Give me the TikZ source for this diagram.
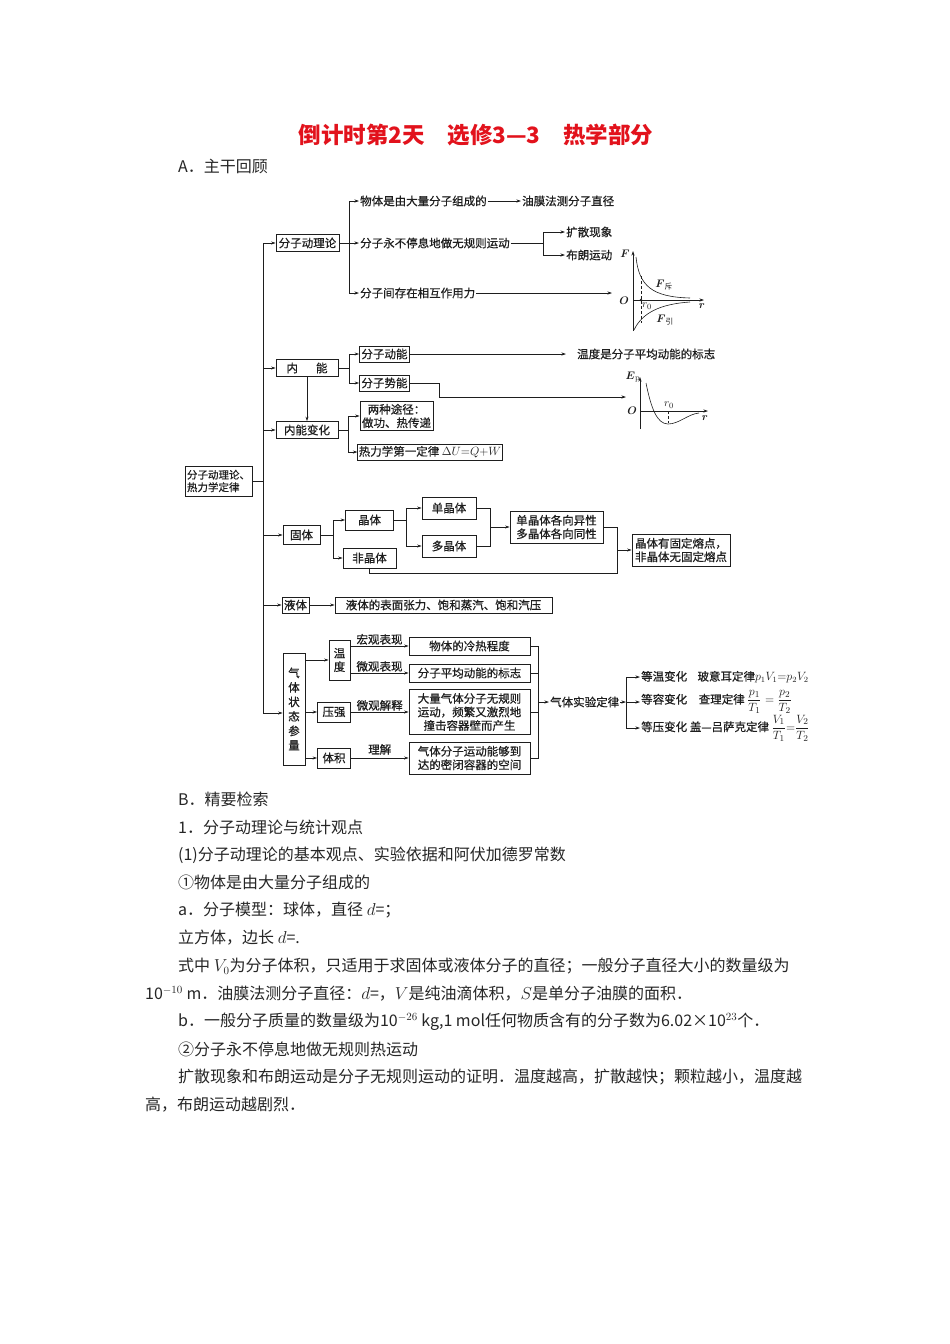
\documentclass[tikz,border=0pt]{standalone}
\usepackage{amsmath}
\usepackage[no-math]{fontspec}
\setmainfont{Noto Sans CJK SC}
\newfontface\diaface[FakeBold=0.6]{Noto Sans CJK SC}
\usetikzlibrary{arrows.meta,positioning,calc}
\definecolor{titlered}{RGB}{226,18,28}
\definecolor{ink}{RGB}{30,30,30}
\newcommand\diafont{\fontsize{11.5}{13.5}\selectfont\diaface}
\newcommand\txtfont{\fontsize{16}{19}\selectfont}
\newcommand\grfont{\fontsize{11}{13}\selectfont}
\newcommand\fracfont{\fontsize{12.5}{14}\selectfont}

\begin{document}
\begin{tikzpicture}[x=1pt, y=-1pt,
  box/.style={draw=ink, line width=0.65pt, align=center, font=\diafont,
              inner sep=2pt, text=ink},
  lbl/.style={font=\diafont, inner sep=1pt, text=ink},
  gl/.style={font=\grfont, inner sep=0pt, text=ink},
  txt/.style={font=\txtfont, anchor=west, inner sep=0pt, text=black!85},
  arr/.style={-{Stealth[length=4.5pt,width=3pt]}, line width=0.65pt, ink},
  wire/.style={line width=0.65pt, ink},
  curve/.style={line width=0.6pt, ink}]

\useasboundingbox (0,0) rectangle (950,1344);
\fill[white] (0,0) rectangle (950,1344);

% ---------- heading ----------
\node[font=\fontsize{22.5}{26}\selectfont\bfseries, text=titlered] (title) at (476,135)
  {倒计时第2天　选修3—3　热学部分};
\node[txt] (secA) at (178,166) {A．主干回顾};

% ---------- root and trunk ----------
\node[box, font=\fontsize{10.5}{12.5}\selectfont\diaface, align=left, minimum width=67pt,
      minimum height=30pt, inner sep=1pt] (root) at (218.5,481) {分子动理论、\\热力学定律};
\coordinate (trunktop) at (263,243);
\coordinate (trunkbot) at (263,713);
\draw[wire] (root.east) -- (root.east -| trunktop);
\draw[wire] (trunktop) -- (trunkbot);

\node[box, minimum width=63pt, minimum height=17pt] (kinetic) at (307.5,243) {分子动理论};
\node[box, minimum width=62pt, minimum height=17pt] (internal) at (307,368) {内\hspace{18pt}能};
\node[box, minimum width=62pt, minimum height=17pt] (change) at (307,430) {内能变化};
\node[box, minimum width=37pt, minimum height=19pt] (solid) at (301.5,535) {固体};
\node[box, minimum width=27pt, minimum height=16pt, inner sep=1pt] (liquid) at (295.5,605) {液体};
\node[box, font=\fontsize{11.5}{14.5}\selectfont\diaface, minimum width=22pt, minimum height=112pt,
      inner sep=1pt] (gas) at (294,709) {气\\体\\状\\态\\参\\量};

\foreach \n in {kinetic,internal,change,solid,liquid}
  \draw[arr] (trunktop |- \n.west) -- (\n.west);
\draw[arr] (trunkbot) -- (gas.west |- trunkbot);

% ---------- kinetic theory ----------
\node[lbl, anchor=west] (many) at (359,201) {物体是由大量分子组成的};
\node[lbl, anchor=west] (oilfilm) at (521,201) {油膜法测分子直径};
\node[lbl, anchor=west] (random) at (359,243) {分子永不停息地做无规则运动};
\node[lbl, anchor=west] (diffuse) at (565,232) {扩散现象};
\node[lbl, anchor=west] (brown) at (565,255) {布朗运动};
\node[lbl, anchor=west] (force) at (359,293) {分子间存在相互作用力};

\coordinate (kfork) at (349,243);
\draw[wire] (kinetic.east) -- (kfork);
\draw[wire] (kfork |- many.west) -- (kfork |- force.west);
\foreach \n in {many,random,force}
  \draw[arr] (kfork |- \n.west) -- (\n.west);
\draw[arr] (many.east) -- (oilfilm.west);

\coordinate (rfork) at (543,243);
\draw[wire] (random.east) -- (rfork);
\draw[wire] (rfork |- diffuse.west) -- (rfork |- brown.west);
\draw[arr] (rfork |- diffuse.west) -- (diffuse.west);
\draw[arr] (rfork |- brown.west) -- (brown.west);

\coordinate (fgraph) at (612,293);
\draw[arr] (force.east) -- (fgraph);

% F-r curve
\draw[arr] (633,331) -- (633,251);
\draw[arr] (633,300) -- (704,300);
\draw[ink, densely dashed, line width=0.4pt] (641,276) -- (641,323);
\fill[ink] (641,300) circle (1.3pt);
\draw[curve] (636,257) .. controls (639,286) and (652,297) .. (690,298);
\draw[curve] (634,330) .. controls (642,313) and (660,304) .. (690,302);
\node[gl] (fF) at (625,254) {$\boldsymbol{F}$};
\node[gl] (fO) at (624,301) {$\boldsymbol{O}$};
\node[gl] (fr0) at (647,306) {$r_0$};
\node[gl] (fr) at (702,306) {$\boldsymbol{r}$};
\node[gl] (frep) at (664,285) {$\boldsymbol{F}_{\text{斥}}$};
\node[gl] (fatt) at (665,320) {$\boldsymbol{F}_{\text{引}}$};

% ---------- internal energy ----------
\node[box, minimum width=50pt, minimum height=16pt] (ekin) at (384.5,354) {分子动能};
\node[box, minimum width=50pt, minimum height=16pt] (epot) at (384.5,383) {分子势能};
\node[lbl, anchor=west] (tempsign) at (576,354) {温度是分子平均动能的标志};

\coordinate (ifork) at (349,368);
\draw[wire] (internal.east) -- (ifork);
\draw[wire] (ifork |- ekin.west) -- (ifork |- epot.west);
\draw[arr] (ifork |- ekin.west) -- (ekin.west);
\draw[arr] (ifork |- epot.west) -- (epot.west);
\draw[arr, shorten >=10pt] (ekin.east) -- (tempsign.west);

\coordinate (epgraph) at (626,397);
\draw[arr] (epot.east) -- ++(29,0) |- (epgraph);

% Ep-r curve
\draw[arr] (640,429) -- (640,377);
\draw[arr] (640,411) -- (708,411);
\draw[ink, densely dashed, line width=0.4pt] (668,411) -- (668,423);
\draw[curve] (646,383) .. controls (651,408) and (657,424) .. (668,424)
             .. controls (679,424) and (688,414) .. (699,413);
\node[gl] (eEp) at (633,377) {$\boldsymbol{E}_{\mathrm{p}}$};
\node[gl] (eO) at (632,411) {$\boldsymbol{O}$};
\node[gl] (er0) at (669,405) {$r_0$};
\node[gl] (er) at (705,418) {$\boldsymbol{r}$};

% ---------- change of internal energy ----------
\node[box, minimum width=73pt, minimum height=29pt, inner sep=1pt] (ways) at (396.5,416)
  {两种途径：\\做功、热传递};
\node[box, minimum width=140pt, minimum height=16pt, inner sep=1pt] (firstlaw) at (430,452)
  {热力学第一定律 $\Delta U{=}Q{+}W$};

\draw[arr] (internal.south) -- (change.north);
\coordinate (cfork) at (348,430);
\draw[wire] (change.east) -- (cfork);
\draw[wire] (cfork |- ways.west) -- (cfork |- firstlaw.west);
\draw[arr] (cfork |- ways.west) -- (ways.west);
\draw[arr] (cfork |- firstlaw.west) -- (firstlaw.west);

% ---------- solids ----------
\node[box, minimum width=48pt, minimum height=20pt] (crystal) at (369.5,520) {晶体};
\node[box, minimum width=53pt, minimum height=20pt] (amorph) at (369.5,558) {非晶体};
\node[box, minimum width=54pt, minimum height=22pt] (single) at (449,508) {单晶体};
\node[box, minimum width=54pt, minimum height=22pt] (poly) at (449,546) {多晶体};
\node[box, minimum width=93pt, minimum height=32pt, inner sep=1pt] (aniso) at (556.5,527)
  {单晶体各向异性\\多晶体各向同性};
\node[box, minimum width=98pt, minimum height=32pt, inner sep=1pt] (melt) at (681,550)
  {晶体有固定熔点，\\非晶体无固定熔点};

\coordinate (sfork) at (333,535);
\draw[wire] (solid.east) -- (sfork);
\draw[wire] (sfork |- crystal.west) -- (sfork |- amorph.west);
\draw[arr] (sfork |- crystal.west) -- (crystal.west);
\draw[arr] (sfork |- amorph.west) -- (amorph.west);

\coordinate (xfork) at (406,520);
\draw[wire] (crystal.east) -- (xfork);
\draw[wire] (xfork |- single.west) -- (xfork |- poly.west);
\draw[arr] (xfork |- single.west) -- (single.west);
\draw[arr] (xfork |- poly.west) -- (poly.west);

\coordinate (jfork) at (490,527);
\draw[wire] (single.east) -| (jfork);
\draw[wire] (poly.east) -| (jfork);
\draw[arr] (jfork) -- (aniso.west);

\coordinate (mfork) at (617,550);
\draw[wire] (aniso.east) -| (mfork);
\draw[wire] (amorph.south) -- ++(0,5) -| (mfork);
\draw[arr] (mfork) -- (melt.west);

% ---------- liquids ----------
\node[box, minimum width=217pt, minimum height=16pt, inner sep=1pt] (surface) at (443.5,605)
  {液体的表面张力、饱和蒸汽、饱和汽压};
\draw[arr] (liquid.east) -- (surface.west);

% ---------- gases ----------
\node[box, minimum width=21pt, minimum height=40pt, inner sep=1pt] (temp) at (339.5,660) {温\\度};
\node[box, minimum width=33pt, minimum height=20pt, inner sep=1pt] (pres) at (334,712) {压强};
\node[box, minimum width=33pt, minimum height=20pt, inner sep=1pt] (vol) at (334,758) {体积};

\node[box, minimum width=121pt, minimum height=18pt, inner sep=1pt] (hotcold) at (469.5,646)
  {物体的冷热程度};
\node[box, minimum width=121pt, minimum height=18pt, inner sep=1pt] (avgek) at (469.5,673)
  {分子平均动能的标志};
\node[box, minimum width=121pt, minimum height=45pt, inner sep=1pt] (impact) at (469.5,712)
  {大量气体分子无规则\\运动，频繁又激烈地\\撞击容器壁而产生};
\node[box, minimum width=121pt, minimum height=32pt, inner sep=1pt] (space) at (469.5,758)
  {气体分子运动能够到\\达的密闭容器的空间};

\draw[arr] (gas.east |- temp.west) -- (temp.west);
\draw[arr] (gas.east |- pres.west) -- (pres.west);
\draw[arr] (gas.east |- vol.west) -- (vol.west);

\draw[arr] (temp.east |- hotcold.west) -- (hotcold.west)
  node[lbl, midway, above] (macro) {宏观表现};
\draw[arr] (temp.east |- avgek.west) -- (avgek.west)
  node[lbl, midway, above] (micro) {微观表现};
\draw[arr] (pres.east) -- (pres.east -| impact.west)
  node[lbl, midway, above] (explain) {微观解释};
\draw[arr] (vol.east) -- (vol.east -| space.west)
  node[lbl, midway, above=2pt] (grasp) {理解};

\node[lbl, anchor=west] (gaslaw) at (549,702) {气体实验定律};
\coordinate (gfork) at (538,702);
\foreach \n in {hotcold,avgek,impact,space}
  \draw[wire] (\n.east) -| (gfork);
\draw[arr] (gfork) -- (gaslaw.west);

\node[lbl, anchor=west] (isoT) at (640,677)
  {等温变化\hspace{0.9em}玻意耳定律$p_1V_1{=}p_2V_2$};
\node[lbl, anchor=west] (isoV) at (640,702)
  {等容变化\hspace{1em}查理定律 {\fracfont$\displaystyle\frac{p_1}{T_1}=\frac{p_2}{T_2}$}};
\node[lbl, anchor=west] (isoP) at (640,728)
  {等压变化 盖—吕萨克定律 {\fracfont$\displaystyle\frac{V_1}{T_1}{=}\frac{V_2}{T_2}$}};

\coordinate (lfork) at (626,702);
\draw[arr] (gaslaw.east) -- (lfork);
\draw[wire] (lfork |- isoT.west) -- (lfork |- isoP.west);
\foreach \n in {isoT,isoV,isoP}
  \draw[arr] (lfork |- \n.west) -- (\n.west);

% ---------- review text ----------
\node[txt] (secB) at (178,799) {B．精要检索};
\node[txt] (l1) at (178,827) {1．分子动理论与统计观点};
\node[txt] (l2) at (178,855) {(1)分子动理论的基本观点、实验依据和阿伏加德罗常数};
\node[txt] (l3) at (178,882) {①物体是由大量分子组成的};
\node[txt] (l4) at (178,910) {a．分子模型：球体，直径 $d$=；};
\node[txt] (l5) at (178,938) {立方体，边长 $d$=.};
\node[txt] (l6) at (178,966) {式中 $V_0$为分子体积，只适用于求固体或液体分子的直径；一般分子直径大小的数量级为};
\node[txt] (l7) at (145,994) {10$^{-10}$ m．油膜法测分子直径：$d$=，$V$是纯油滴体积，$S$是单分子油膜的面积．};
\node[txt] (l8) at (178,1022) {b．一般分子质量的数量级为10$^{-26}$ kg,1 mol任何物质含有的分子数为6.02×10$^{23}$个．};
\node[txt] (l9) at (178,1049) {②分子永不停息地做无规则热运动};
\node[txt] (l10) at (178,1077) {扩散现象和布朗运动是分子无规则运动的证明．温度越高，扩散越快；颗粒越小，温度越};
\node[txt] (l11) at (145,1105) {高，布朗运动越剧烈．};
\end{tikzpicture}
\end{document}
